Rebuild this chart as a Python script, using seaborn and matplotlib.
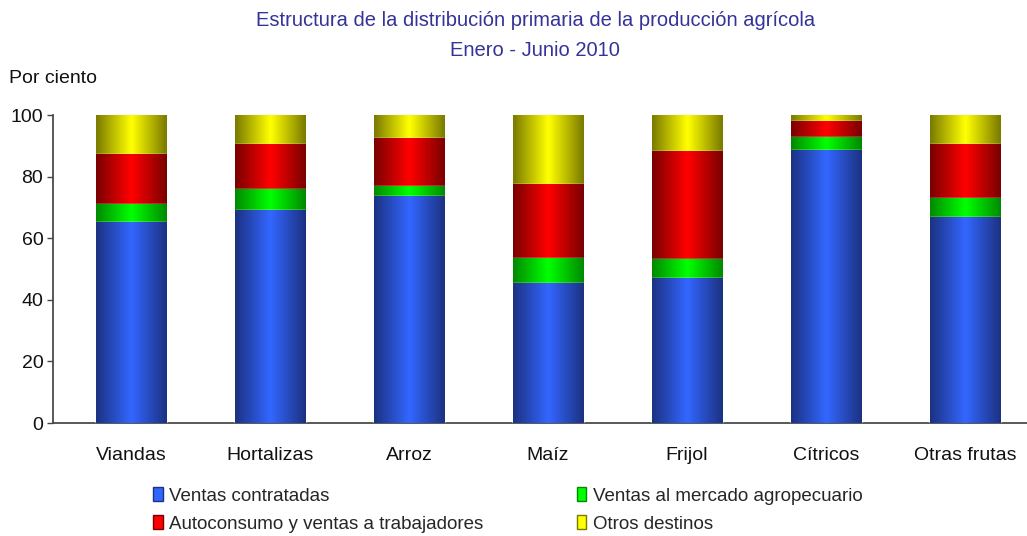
import numpy as np
import matplotlib
matplotlib.use("Agg")
import matplotlib.pyplot as plt
import seaborn as sns
from matplotlib.colors import LinearSegmentedColormap
from matplotlib.patches import Rectangle

categories = ["Viandas", "Hortalizas", "Arroz", "Maíz", "Frijol", "Cítricos", "Otras frutas"]
ventas_contratadas = [65.2, 69.1, 73.8, 45.4, 47.0, 88.6, 67.0]
ventas_mercado = [5.9, 6.9, 3.1, 8.2, 6.3, 4.3, 6.0]
autoconsumo = [16.3, 14.7, 15.5, 24.1, 35.0, 5.0, 17.7]
otros_destinos = [12.6, 9.3, 7.6, 22.3, 11.7, 2.1, 9.3]

series_names = ["Ventas contratadas", "Ventas al mercado agropecuario",
                "Autoconsumo y ventas a trabajadores", "Otros destinos"]
series_vals = [ventas_contratadas, ventas_mercado, autoconsumo, otros_destinos]
# (dark edge, bright center) for the cylinder look
shades = [("#1c3282", "#3366ff"), ("#008a00", "#00ff00"),
          ("#7a0000", "#ff0000"), ("#7a7a00", "#ffff00")]

sns.set_theme(style="white")
plt.rcParams["font.family"] = ["Liberation Sans", "DejaVu Sans"]

fig = plt.figure(figsize=(10.27, 5.36), dpi=100)
ax = fig.add_axes([0.0516, 0.2108, 0.9484, 0.5746])

cum = np.cumsum(np.array(series_vals), axis=0)
grad = np.concatenate([np.linspace(0, 1, 50), np.linspace(1, 0, 50)])[None, :]

# draw cumulative totals from the top layer down so each layer covers the next
for i in range(3, -1, -1):
    before = len(ax.patches)
    sns.barplot(x=categories, y=cum[i], color=shades[i][1], width=0.51,
                ax=ax, zorder=2 + 2 * (3 - i), saturation=1)
    cmap = LinearSegmentedColormap.from_list("c%d" % i, [shades[i][0], shades[i][1]])
    for p in ax.patches[before:]:
        x0, y0 = p.get_x(), p.get_y()
        w, h = p.get_width(), p.get_height()
        im = ax.imshow(grad, cmap=cmap, aspect="auto", extent=[x0, x0 + w, y0, y0 + h],
                       zorder=p.get_zorder() + 1, interpolation="bicubic")
        im.set_clip_path(p)

ax.set_xlim(-0.561, 6.446)
ax.set_ylim(0, 100)
ax.set_yticks([0, 20, 40, 60, 80, 100])
ax.tick_params(axis="y", left=True, length=4, width=1, color="#444444", labelsize=14, pad=3)
ax.tick_params(axis="x", bottom=False, labelsize=14, pad=11)
for lab in ax.get_xticklabels() + ax.get_yticklabels():
    lab.set_color("#111111")
ax.set_xlabel("")
ax.set_ylabel("")
sns.despine(ax=ax, top=True, right=True)
ax.spines["left"].set_color("#444444")
ax.spines["bottom"].set_color("#444444")

fig.text(0.521, 0.962, "Estructura de la distribución primaria de la producción agrícola",
         ha="center", va="center", fontsize=14.5, color="#333399")
fig.text(0.521, 0.906, "Enero - Junio 2010", ha="center", va="center", fontsize=14.5,
         color="#333399")
fig.text(0.009, 0.853, "Por ciento", ha="left", va="center", fontsize=14, color="#111111")

order = [0, 2, 1, 3]
handles = [Rectangle((0, 0), 1, 1, facecolor=shades[i][1], edgecolor=shades[i][0])
           for i in order]
labels = [series_names[i] for i in order]
fig.legend(handles, labels, ncol=2, loc="upper left", bbox_to_anchor=(0.140, 0.108),
           frameon=False, fontsize=13.5, handlelength=0.5, handleheight=0.75,
           handletextpad=0.35, columnspacing=5.0, labelspacing=0.55, borderpad=0)

fig.savefig("out.png", dpi=100)
